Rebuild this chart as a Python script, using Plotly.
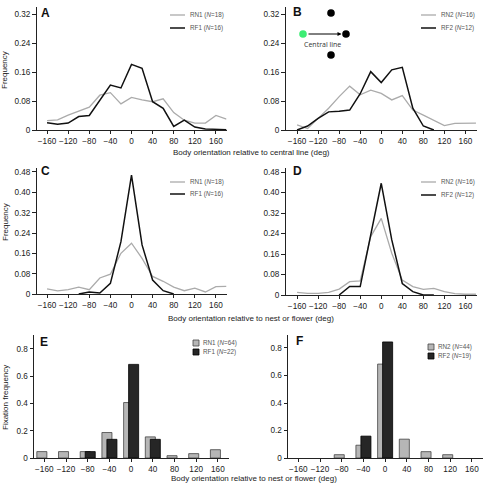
import plotly.graph_objects as go

W, H = 484, 483

# ---------------- data ----------------
angles = [-160, -140, -120, -100, -80, -60, -40, -20, 0, 20, 40, 60, 80, 100, 120, 140, 160, 180]

# Panel A (relative to central line)
a_rn1 = [0.026, 0.028, 0.041, 0.052, 0.063, 0.096, 0.103, 0.072, 0.090, 0.083, 0.078, 0.086, 0.048, 0.027, 0.019, 0.019, 0.040, 0.030]
a_rf1 = [0.020, 0.016, 0.019, 0.037, 0.040, 0.083, 0.124, 0.116, 0.181, 0.170, 0.078, 0.060, 0.010, 0.027, 0.008, 0.003, 0.001, 0.001]
# Panel B
b_rn2 = [0.014, 0.004, 0.032, 0.060, 0.092, 0.121, 0.097, 0.110, 0.101, 0.083, 0.095, 0.055, 0.041, 0.026, 0.012, 0.018, 0.019, 0.019]
b_rf2_x = [-160, -140, -120, -100, -80, -60, -40, -20, 0, 20, 40, 60, 80, 100]
b_rf2 = [0.0, 0.011, 0.032, 0.050, 0.052, 0.055, 0.100, 0.161, 0.131, 0.166, 0.173, 0.060, 0.011, 0.0]
# Panel C (relative to nest or flower)
c_rn1 = [0.020, 0.012, 0.017, 0.027, 0.017, 0.063, 0.078, 0.160, 0.200, 0.140, 0.069, 0.050, 0.027, 0.013, 0.023, 0.008, 0.029, 0.030]
c_rf1_x = [-100, -80, -60, -40, -20, 0, 20, 40, 60, 80]
c_rf1 = [0.0, 0.008, 0.004, 0.042, 0.206, 0.468, 0.193, 0.055, 0.013, 0.0]
# Panel D
d_rn2 = [0.010, 0.006, 0.006, 0.010, 0.023, 0.052, 0.055, 0.228, 0.299, 0.163, 0.058, 0.033, 0.022, 0.026, 0.013, 0.005, 0.003, 0.003]
d_rf2_x = [-80, -60, -40, -20, 0, 20, 40, 60, 80, 100]
d_rf2 = [0.0, 0.033, 0.033, 0.234, 0.436, 0.215, 0.045, 0.013, 0.0, 0.0]

# Panel E / F fixation frequencies
bins = [-160, -120, -80, -40, 0, 40, 80, 120, 160]
e_rn1 = [0.047, 0.047, 0.047, 0.187, 0.407, 0.155, 0.017, 0.032, 0.061]
e_rf1 = [0, 0, 0.047, 0.137, 0.687, 0.137, 0, 0, 0]
f_rn2 = [0, 0, 0.024, 0.093, 0.683, 0.137, 0.046, 0.024, 0]
f_rf2 = [0, 0, 0, 0.159, 0.844, 0, 0, 0, 0]

xticks = [-160, -120, -80, -40, 0, 40, 80, 120, 160]
xtick_text = ["\u2212160", "\u2212120", "\u221280", "\u221240", "0", "40", "80", "120", "160"]
yticks_top = [0, 0.08, 0.16, 0.24, 0.32]
yticks_mid = [0, 0.08, 0.16, 0.24, 0.32, 0.40, 0.48]
yticks_bot = [0, 0.2, 0.4, 0.6, 0.8]

legends = {
    "A": ("RN1", "18", "RF1", "16"),
    "B": ("RN2", "16", "RF2", "12"),
    "C": ("RN1", "18", "RF1", "16"),
    "D": ("RN2", "16", "RF2", "12"),
    "E": ("RN1", "64", "RF1", "22"),
    "F": ("RN2", "44", "RF2", "19"),
}

# ---------------- style ----------------
FONT = "Liberation Sans, Arial, sans-serif"
GRAY = "#ababab"
BLACK = "#111111"
BAR_GRAY = "#b6b6b6"
BAR_BLACK = "#262626"
TICK_SIZE = 8.2


def px(x):
    return x / W


def py(y):
    return 1 - y / H


# panel geometry (pixels): x0, x1, ytop, ybottom, ymax, xrange
panels = {
    "A": (36.5, 226.5, 7, 130, 0.3393, [-180, 180]),
    "B": (285.5, 477, 7, 130, 0.3393, [-182, 182]),
    "C": (36.5, 226.5, 168, 294, 0.4957, [-180, 180]),
    "D": (285.5, 477, 168, 295, 0.4956, [-182, 182]),
    "E": (34, 229, 335, 458, 0.9027, [-179, 180.5]),
    "F": (288, 483, 335, 458, 0.8945, [-179, 180.5]),
}
order = ["A", "B", "C", "D", "E", "F"]

fig = go.Figure()

layout = dict(
    width=W, height=H,
    margin=dict(l=0, r=0, t=0, b=0),
    paper_bgcolor="white", plot_bgcolor="white",
    showlegend=False,
    barmode="overlay",
    font=dict(family=FONT, size=9, color="#222"),
)

for i, key in enumerate(order):
    n = "" if i == 0 else str(i + 1)
    x0, x1, yt, yb, ytop, xr = panels[key]
    if key in ("A", "B"):
        yt_vals, yt_text = yticks_top, ["0", "0.08", "0.16", "0.24", "0.32"]
    elif key in ("C", "D"):
        yt_vals, yt_text = yticks_mid, ["0", "0.08", "0.16", "0.24", "0.32", "0.40", "0.48"]
    else:
        yt_vals, yt_text = yticks_bot, ["0", "0.2", "0.4", "0.6", "0.8"]
    layout["xaxis" + n] = dict(
        domain=[px(x0), px(x1)], anchor="y" + n, range=xr,
        tickmode="array", tickvals=xticks, ticktext=xtick_text, tickangle=0,
        showline=True, linecolor="#222", linewidth=1,
        ticks="outside", ticklen=3, tickcolor="#222", tickwidth=1,
        showgrid=False, zeroline=False, fixedrange=True,
        tickfont=dict(size=TICK_SIZE, color="#222", family=FONT), automargin=False,
    )
    layout["yaxis" + n] = dict(
        domain=[py(yb), py(yt)], anchor="x" + n, range=[0, ytop],
        tickmode="array", tickvals=yt_vals, ticktext=yt_text, tickangle=0,
        showline=True, linecolor="#222", linewidth=1,
        ticks="outside", ticklen=3.5, tickcolor="#222", tickwidth=1,
        showgrid=False, zeroline=False, fixedrange=True,
        tickfont=dict(size=TICK_SIZE, color="#222", family=FONT), automargin=False,
    )

# ---------------- line traces ----------------
def line(x, y, color, width, ax):
    fig.add_trace(go.Scatter(x=x, y=y, mode="lines", line=dict(color=color, width=width),
                             xaxis="x" + ax, yaxis="y" + ax, cliponaxis=False))

line(angles, a_rn1, GRAY, 1.3, "")
line(angles, a_rf1, BLACK, 1.5, "")
line(angles, b_rn2, GRAY, 1.3, "2")
line(b_rf2_x, b_rf2, BLACK, 1.5, "2")
line(angles, c_rn1, GRAY, 1.3, "3")
line(c_rf1_x, c_rf1, BLACK, 1.5, "3")
line(angles, d_rn2, GRAY, 1.3, "4")
line(d_rf2_x, d_rf2, BLACK, 1.5, "4")

# ---------------- bar traces ----------------
BW = 18.5
def bars(x, y, fill, outline, offset, ax):
    xs = [a for a, v in zip(x, y) if v > 0]
    ys = [v for v in y if v > 0]
    fig.add_trace(go.Bar(x=xs, y=ys, width=BW, offset=offset,
                         marker=dict(color=fill, line=dict(color=outline, width=0.8)),
                         xaxis="x" + ax, yaxis="y" + ax))

bars(bins, e_rn1, BAR_GRAY, "#444", -13.8, "5")
bars(bins, e_rf1, BAR_BLACK, "#000", -4.6, "5")
bars(bins, f_rn2, BAR_GRAY, "#444", -13.8, "6")
bars(bins, f_rf2, BAR_BLACK, "#000", -4.6, "6")

# ---------------- annotations ----------------
ann = []
shapes = []

def text(x, y, s, size=8, color="#222", xanchor="center", yanchor="middle", angle=0, bold=False, family=FONT):
    ann.append(dict(x=px(x), y=py(y), xref="paper", yref="paper", text=("<b>%s</b>" % s) if bold else s,
                    showarrow=False, xanchor=xanchor, yanchor=yanchor, textangle=angle,
                    font=dict(size=size, color=color, family=family)))

# panel letters
letters = {"A": (38.5, 13), "B": (291, 12), "C": (38.5, 171), "D": (291, 171), "E": (38, 342), "F": (294, 341)}
for k, (x, y) in letters.items():
    text(x, y, k, size=12, color="#111", xanchor="left", bold=True)

# axis titles
text(251, 152, "Body orientation relative to central line (deg)", size=8)
text(251, 318, "Body orientation relative to nest or flower (deg)", size=8)
text(254, 478, "Body orientation relative to nest or flower (deg)", size=8)
text(5, 70, "Frequency", size=8, angle=-90)
text(5, 222, "Frequency", size=8, angle=-90)
text(5, 398, "Fixation frequency", size=8, angle=-90)

# legends for line panels
line_leg = {"A": (170, 15, 28), "B": (421, 15, 28), "C": (170, 182, 194), "D": (421, 182, 195)}
for k, (lx, y1, y2) in line_leg.items():
    n1, c1, n2, c2 = legends[k]
    shapes.append(dict(type="line", xref="paper", yref="paper", x0=px(lx), x1=px(lx + 15),
                       y0=py(y1), y1=py(y1), line=dict(color=GRAY, width=1.3)))
    shapes.append(dict(type="line", xref="paper", yref="paper", x0=px(lx), x1=px(lx + 15),
                       y0=py(y2), y1=py(y2), line=dict(color=BLACK, width=1.5)))
    text(lx + 18, y1, "%s (<i>N</i>=%s)" % (n1, c1), size=6.3, color="#555", xanchor="left")
    text(lx + 18, y2, "%s (<i>N</i>=%s)" % (n2, c2), size=6.3, color="#555", xanchor="left")

bar_leg = {"E": (193, 343, 352), "F": (428, 347, 356)}
for k, (lx, y1, y2) in bar_leg.items():
    n1, c1, n2, c2 = legends[k]
    shapes.append(dict(type="rect", xref="paper", yref="paper", x0=px(lx), x1=px(lx + 6),
                       y0=py(y1 + 3), y1=py(y1 - 3), fillcolor=BAR_GRAY, line=dict(color="#444", width=0.8)))
    shapes.append(dict(type="rect", xref="paper", yref="paper", x0=px(lx), x1=px(lx + 6),
                       y0=py(y2 + 3), y1=py(y2 - 3), fillcolor=BAR_BLACK, line=dict(color="#000", width=0.8)))
    text(lx + 8, y1, "%s (<i>N</i>=%s)" % (n1, c1), size=6.3, color="#555", xanchor="left")
    text(lx + 8, y2, "%s (<i>N</i>=%s)" % (n2, c2), size=6.3, color="#555", xanchor="left")

# inset schematic in panel B
R = 3.8
for (cx, cy, col) in [(331, 13, "#000"), (346, 34, "#000"), (331, 55, "#000"), (303, 34, "#3ded74")]:
    shapes.append(dict(type="circle", xref="paper", yref="paper", x0=px(cx - R), x1=px(cx + R),
                       y0=py(cy + R), y1=py(cy - R), fillcolor=col, line=dict(width=0)))
ann.append(dict(x=px(341.5), y=py(34), ax=-34.5, ay=0, xref="paper", yref="paper",
                axref="pixel", ayref="pixel", showarrow=True, arrowhead=2, arrowsize=0.8,
                arrowwidth=1, arrowcolor="#000", text=""))
text(322, 44, "Central line", size=7, color="#333", family="Open Sans, sans-serif")

layout["annotations"] = ann
layout["shapes"] = shapes
fig.update_layout(**layout)

fig.write_html("out.html")
